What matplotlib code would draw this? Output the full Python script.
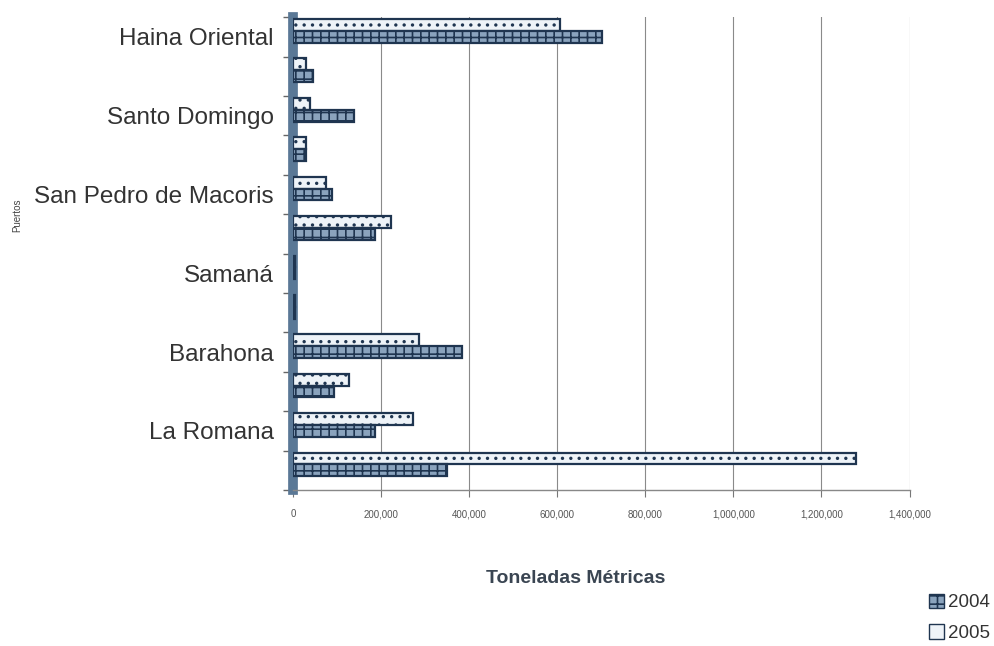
import numpy as np
import matplotlib.pyplot as plt
from matplotlib.patches import Patch
from matplotlib.ticker import FuncFormatter

# puertos (solo se rotulan algunas categorias)
puertos = ["Haina Oriental", "", "Santo Domingo", "", "San Pedro de Macoris", "",
           "Samaná", "", "Barahona", "", "La Romana", ""]
tons_2005 = [605000, 30000, 38000, 30000, 75000, 222000, 3000, 3000,
             285000, 127000, 272000, 1278000]
tons_2004 = [702000, 45000, 137000, 30000, 88000, 186000, 3000, 3000,
             383000, 93000, 186000, 349000]
x_ticks = [0, 200000, 400000, 600000, 800000, 1000000, 1200000, 1400000]

plt.rcParams["font.family"] = ["Liberation Sans", "DejaVu Sans"]
plt.rcParams["hatch.linewidth"] = 1.2

navy = "#1f3550"
fig = plt.figure(figsize=(9.94, 6.46), dpi=100)
ax = fig.add_axes([0.295, 0.2415, 0.620, 0.732])

pos = np.arange(len(puertos))
h = 0.3
ax.barh(pos - h, tons_2005, height=h, color="#eef3f8", edgecolor=navy,
        hatch="..", linewidth=1.6, zorder=3)
ax.barh(pos, tons_2004, height=h, color="#8aa3bd", edgecolor=navy,
        hatch="++", linewidth=1.6, zorder=3)

ax.set_ylim(len(puertos) - 0.5, -0.5)
ax.set_xlim(0, 1400000)
ax.set_yticks(pos)
ax.set_yticklabels(puertos, fontsize=17.5, color="#333333")
ax.tick_params(axis="y", which="major", length=0, pad=14)
ax.set_yticks(np.arange(-0.5, len(puertos), 1), minor=True)
ax.tick_params(axis="y", which="minor", length=7, color="#666666", width=1)

ax.set_xticks(x_ticks)
ax.xaxis.set_major_formatter(FuncFormatter(lambda v, p: f"{int(v):,}"))
ax.tick_params(axis="x", labelsize=7, labelcolor="#555555", length=5,
               color="#777777", pad=9)

ax.grid(axis="x", color="#8a8a8a", linewidth=0.8, zorder=0)
for s in ["top", "right"]:
    ax.spines[s].set_visible(False)
ax.spines["left"].set_linewidth(7)
ax.spines["left"].set_color("#5a7896")
ax.spines["bottom"].set_color("#888888")
ax.spines["bottom"].set_linewidth(1)

fig.text(0.579, 0.105, "Toneladas Métricas", ha="center", va="center",
         fontsize=14, fontweight="bold", color="#3a4552")
fig.text(0.017, 0.667, "Puertos", rotation=90, ha="center", va="center",
         fontsize=7, color="#444444")

handles = [Patch(facecolor="#8aa3bd", edgecolor=navy, hatch="++", label="2004"),
           Patch(facecolor="#eef3f8", edgecolor=navy, label="2005")]
fig.legend(handles=handles, loc="lower right", bbox_to_anchor=(1.013, -0.02),
           frameon=False, fontsize=13.5, handlelength=0.8, handleheight=0.8,
           handletextpad=0.2, labelspacing=0.7, labelcolor="#333333")

fig.savefig("out.png", dpi=100)
